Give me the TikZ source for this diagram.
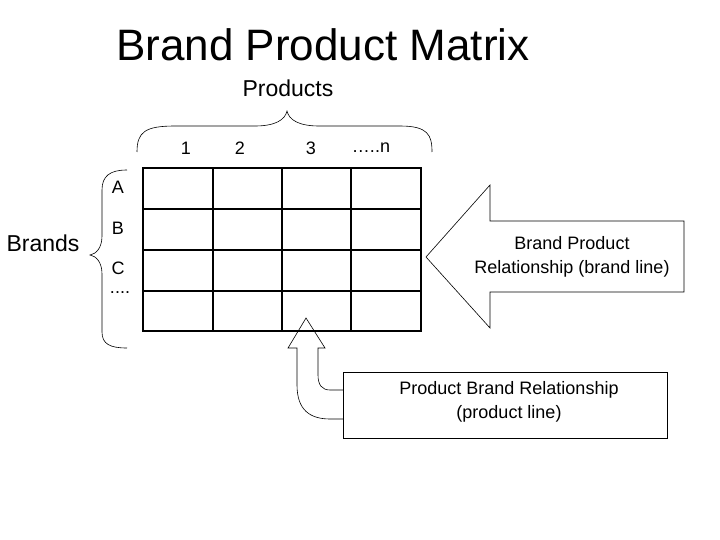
\documentclass[tikz,border=0pt]{standalone}
\usepackage{fontspec}
\setmainfont{Liberation Sans}
\begin{document}
\begin{tikzpicture}[x=1pt,y=-1pt,
  lbl/.style={font=\fontsize{18}{22}\selectfont, inner sep=0pt},
  big/.style={font=\fontsize{23}{27}\selectfont, inner sep=0pt},
  grid/.style={line width=2pt},
  thin/.style={line width=0.6pt}]
\useasboundingbox (0,0) rectangle (720,540);
\node[font=\fontsize{44}{50}\selectfont, inner sep=0] (title) at (323,45) {Brand Product Matrix};
\node[big] (products) at (288,88) {Products};
\node[big] (brands) at (43,243) {Brands};
\node[lbl] (c1) at (186,148) {1};
\node[lbl] (c2) at (240,148) {2};
\node[lbl] (c3) at (311,148) {3};
\node[lbl] (cn) at (371,148) {\dots..n};
\node[lbl] (ra) at (118,187) {A};
\node[lbl] (rb) at (118,228) {B};
\node[lbl] (rc) at (118,268) {C};
\node[lbl] (rd) at (120,293) {....};
% grid
\draw[grid] (143,168) rectangle (421,331);
\foreach \x in {213,282,351} \draw[grid] (\x,168) -- (\x,331);
\foreach \y in {209,250,291} \draw[grid] (143,\y) -- (421,\y);
% braces
\draw[thin] (137,152) .. controls (137,132) and (145,126) .. (175,126) -- (255,126)
  .. controls (275,126) and (285,120) .. (287,111)
  .. controls (289,120) and (299,126) .. (319,126) -- (400,126)
  .. controls (428,126) and (432,135) .. (432,152);
\draw[thin] (127,170) .. controls (110,170) and (102,176) .. (102,190) -- (102,236)
  .. controls (102,248) and (96,254) .. (90,255)
  .. controls (96,256) and (102,262) .. (102,274) -- (102,332)
  .. controls (102,344) and (110,348) .. (127,348);
% big arrow
\draw[thin] (426,257) -- (490,185) -- (490,221) -- (684,221) -- (684,292) -- (490,292) -- (490,328) -- cycle;
\node[lbl] (bp) at (572,257) {\begin{tabular}{c}Brand Product\\[2pt]Relationship (brand line)\end{tabular}};
% product box
\draw[thin] (343,372) rectangle (667,438);
\node[lbl] (pb) at (509,402) {\begin{tabular}{c}Product Brand Relationship\\[2pt](product line)\end{tabular}};
% curved arrow
\draw[thin] (343,390) -- (330,390) .. controls (322,390) and (318,385) .. (318,375) -- (318,348) -- (325,348)
  -- (306,318) -- (288,348) -- (297,348) -- (297,385)
  .. controls (297,410) and (310,419) .. (330,419) -- (343,419);
\end{tikzpicture}
\end{document}
